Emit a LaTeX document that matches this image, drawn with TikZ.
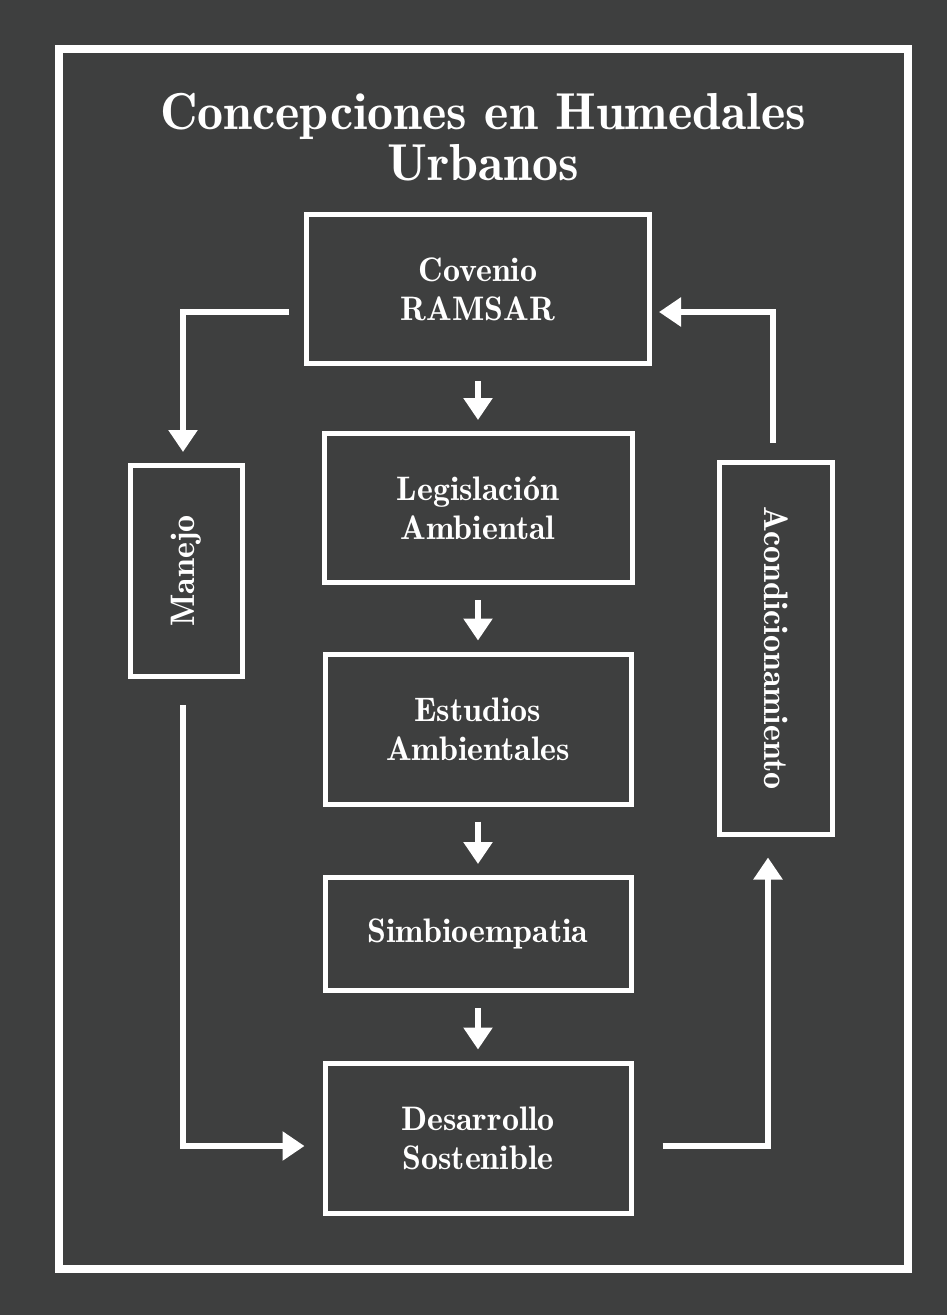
\documentclass[tikz,border=0pt]{standalone}
\usepackage{fontspec}
\setmainfont{lmromandemi10-regular.otf}
\usepackage{tikz}
\usetikzlibrary{positioning,arrows.meta}
\definecolor{fondo}{RGB}{62,63,63}
\tikzset{
caja/.style={draw=white, line width=5pt, inner sep=0pt, text=white, align=center, font=\fontsize{34}{39}\selectfont},
flecha/.style={draw=white, line width=6pt, -{Triangle[width=28pt,length=22pt]}, shorten <=15pt, shorten >=11pt},
titulo/.style={text=white, align=center, font=\fontsize{52}{51}\selectfont}
}

\begin{document}
\begin{tikzpicture}[x=1pt,y=-1pt]
\fill[fondo] (0,0) rectangle (947,1315);
\draw[white, line width=8pt] (59,49) rectangle (908,1269);
\node[titulo] (tit) at (483,137) {Concepciones en Humedales\\Urbanos};

\node[caja, minimum width=343pt, minimum height=149pt] (ramsar) at (478,289) {Covenio\\RAMSAR};
\node[caja, minimum width=308pt, minimum height=149pt] (legis) at (478,508) {Legislación\\Ambiental};
\node[caja, minimum width=306pt, minimum height=150pt] (estudios) at (478,729) {Estudios\\Ambientales};
\node[caja, minimum width=306pt, minimum height=113pt] (simbio) at (478,934) {Simbioempatia};
\node[caja, minimum width=306pt, minimum height=150pt] (desarrollo) at (478,1138) {Desarrollo\\Sostenible};
\node[caja, minimum width=112pt, minimum height=211pt] (manejo) at (186,571) {\rotatebox{90}{Manejo}};
\node[caja, minimum width=113pt, minimum height=372pt] (acond) at (776,648) {\rotatebox{-90}{Acondicionamiento}};

\draw[flecha] (ramsar) -- (legis);
\draw[flecha] (legis) -- (estudios);
\draw[flecha] (estudios) -- (simbio);
\draw[flecha] (simbio) -- (desarrollo);

\draw[flecha] ([yshift=-23pt]ramsar.west) -| ([xshift=-3pt]manejo.north);
\draw[flecha, shorten <=26pt, shorten >=18pt] ([xshift=-3pt]manejo.south) |- ([yshift=-8pt]desarrollo.west);
\draw[flecha, shorten <=29pt, shorten >=21pt] ([yshift=-8pt]desarrollo.east) -| ([xshift=-8pt]acond.south);
\draw[flecha, shorten <=17pt, shorten >=7pt] ([xshift=-3pt]acond.north) |- ([yshift=-23pt]ramsar.east);
\end{tikzpicture}
\end{document}
